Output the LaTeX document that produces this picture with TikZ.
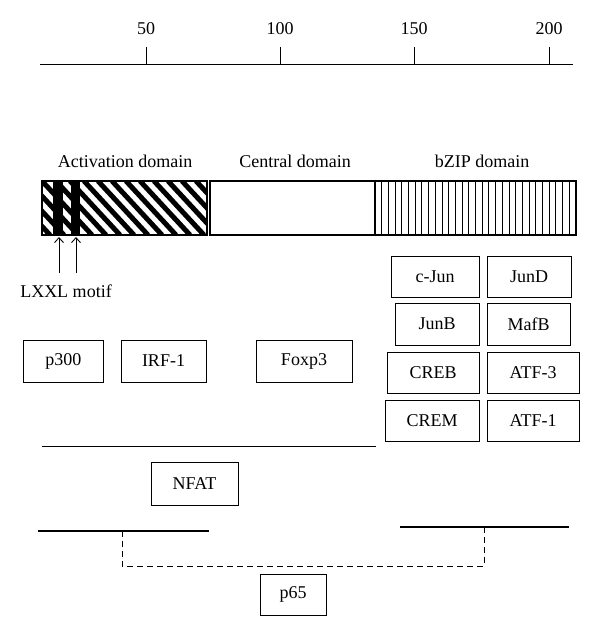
\documentclass[tikz,border=0pt]{standalone}
\usepackage{fontspec}
\setmainfont{Liberation Serif}
\usetikzlibrary{arrows.meta}
\tikzset{
  box/.style={draw, line width=1pt, inner sep=0pt, font=\fontsize{18}{20}\selectfont},
  lbl/.style={inner sep=0pt, anchor=base, font=\fontsize{18}{20}\selectfont},
  rangeline/.style={line width=1.2pt},
  dashline/.style={line width=1pt, dash pattern=on 6pt off 4pt},
  motifarrow/.style={line width=0.9pt, -{Straight Barb[length=5pt,width=9pt]}},
}
\begin{document}
\begin{tikzpicture}[x=1pt,y=-1pt]
\useasboundingbox (0,0) rectangle (600,636);
% axis
\coordinate (axL) at (40,65);
\coordinate (axR) at (573,65);
\draw[line width=1pt] (axL) -- (axR);
\foreach \x/\t in {146/50,280/100,414/150,549/200}{
  \draw[line width=1pt] (\x,47) -- (\x,65);
  \node[lbl] at (\x,35) {\t};
}
% domain labels
\node[lbl] (actlbl) at (125,168) {Activation domain};
\node[lbl] (cenlbl) at (295,168) {Central domain};
\node[lbl] (bziplbl) at (482,168) {bZIP domain};
% activation domain hatching
\begin{scope}
  \clip (42,181) rectangle (207,235);
  \foreach \k in {-6,...,14}{
    \draw[line width=5pt] ({42+\k*14},181) -- ({42+\k*14+50},235);
  }
\end{scope}
\fill (53.3,181) rectangle (62.7,235);
\fill (71,181) rectangle (80,235);
\draw[line width=1.2pt] (42,181) rectangle (207,235);
% central domain
\draw[line width=1.2pt] (210,181) rectangle (375,235);
% bZIP domain
\foreach \k in {1,...,29}{
  \draw[line width=0.9pt] ({375+\k*6.7},181) -- ({375+\k*6.7},235);
}
\draw[line width=1.2pt] (375,181) rectangle (576,235);
% LXXL motif
\node[lbl] (motif) at (66,297) {LXXL motif};
\coordinate (a1s) at (59,273);
\coordinate (a1e) at (59,237);
\coordinate (a2s) at (76,273);
\coordinate (a2e) at (76,237);
\draw[motifarrow] (a1s) -- (a1e);
\draw[motifarrow] (a2s) -- (a2e);
% bZIP partners
\node[box, minimum width=88pt, minimum height=41pt] (cjun) at (435,276.5) {c-Jun};
\node[box, minimum width=84pt, minimum height=41pt] (jund) at (529,276.5) {JunD};
\node[box, minimum width=84pt, minimum height=42pt] (junb) at (437,324) {JunB};
\node[box, minimum width=83pt, minimum height=42pt] (mafb) at (528.5,324) {MafB};
\node[box, minimum width=92pt, minimum height=41pt] (creb) at (433,372.5) {CREB};
\node[box, minimum width=92pt, minimum height=41pt] (atf3) at (533,372.5) {ATF-3};
\node[box, minimum width=94pt, minimum height=41pt] (crem) at (432,420.5) {CREM};
\node[box, minimum width=92pt, minimum height=41pt] (atf1) at (533,420.5) {ATF-1};
% other partners
\node[box, minimum width=79.5pt, minimum height=42pt] (p300) at (63.25,361) {p300};
\node[box, minimum width=85pt, minimum height=42pt] (irf1) at (163.5,361) {IRF-1};
\node[box, minimum width=96pt, minimum height=42pt] (foxp3) at (304,361) {Foxp3};
% NFAT range
\coordinate (nfL) at (42,446.5);
\coordinate (nfR) at (376,446.5);
\draw[rangeline] (nfL) -- (nfR);
\node[box, minimum width=87pt, minimum height=43pt] (nfat) at (194.5,483.5) {NFAT};
% p65 ranges
\coordinate (p1L) at (38,531);
\coordinate (p1R) at (209,531);
\coordinate (p1M) at (122,531);
\coordinate (p2L) at (400,527);
\coordinate (p2R) at (569,527);
\coordinate (p2M) at (484,527);
\draw[rangeline] (p1L) -- (p1R);
\draw[rangeline] (p2L) -- (p2R);
\draw[dashline] (p1M) -- (122,566) -- (484,566) -- (p2M);
\node[box, minimum width=66pt, minimum height=41pt] (p65) at (293,594.5) {p65};
\end{tikzpicture}
\end{document}
